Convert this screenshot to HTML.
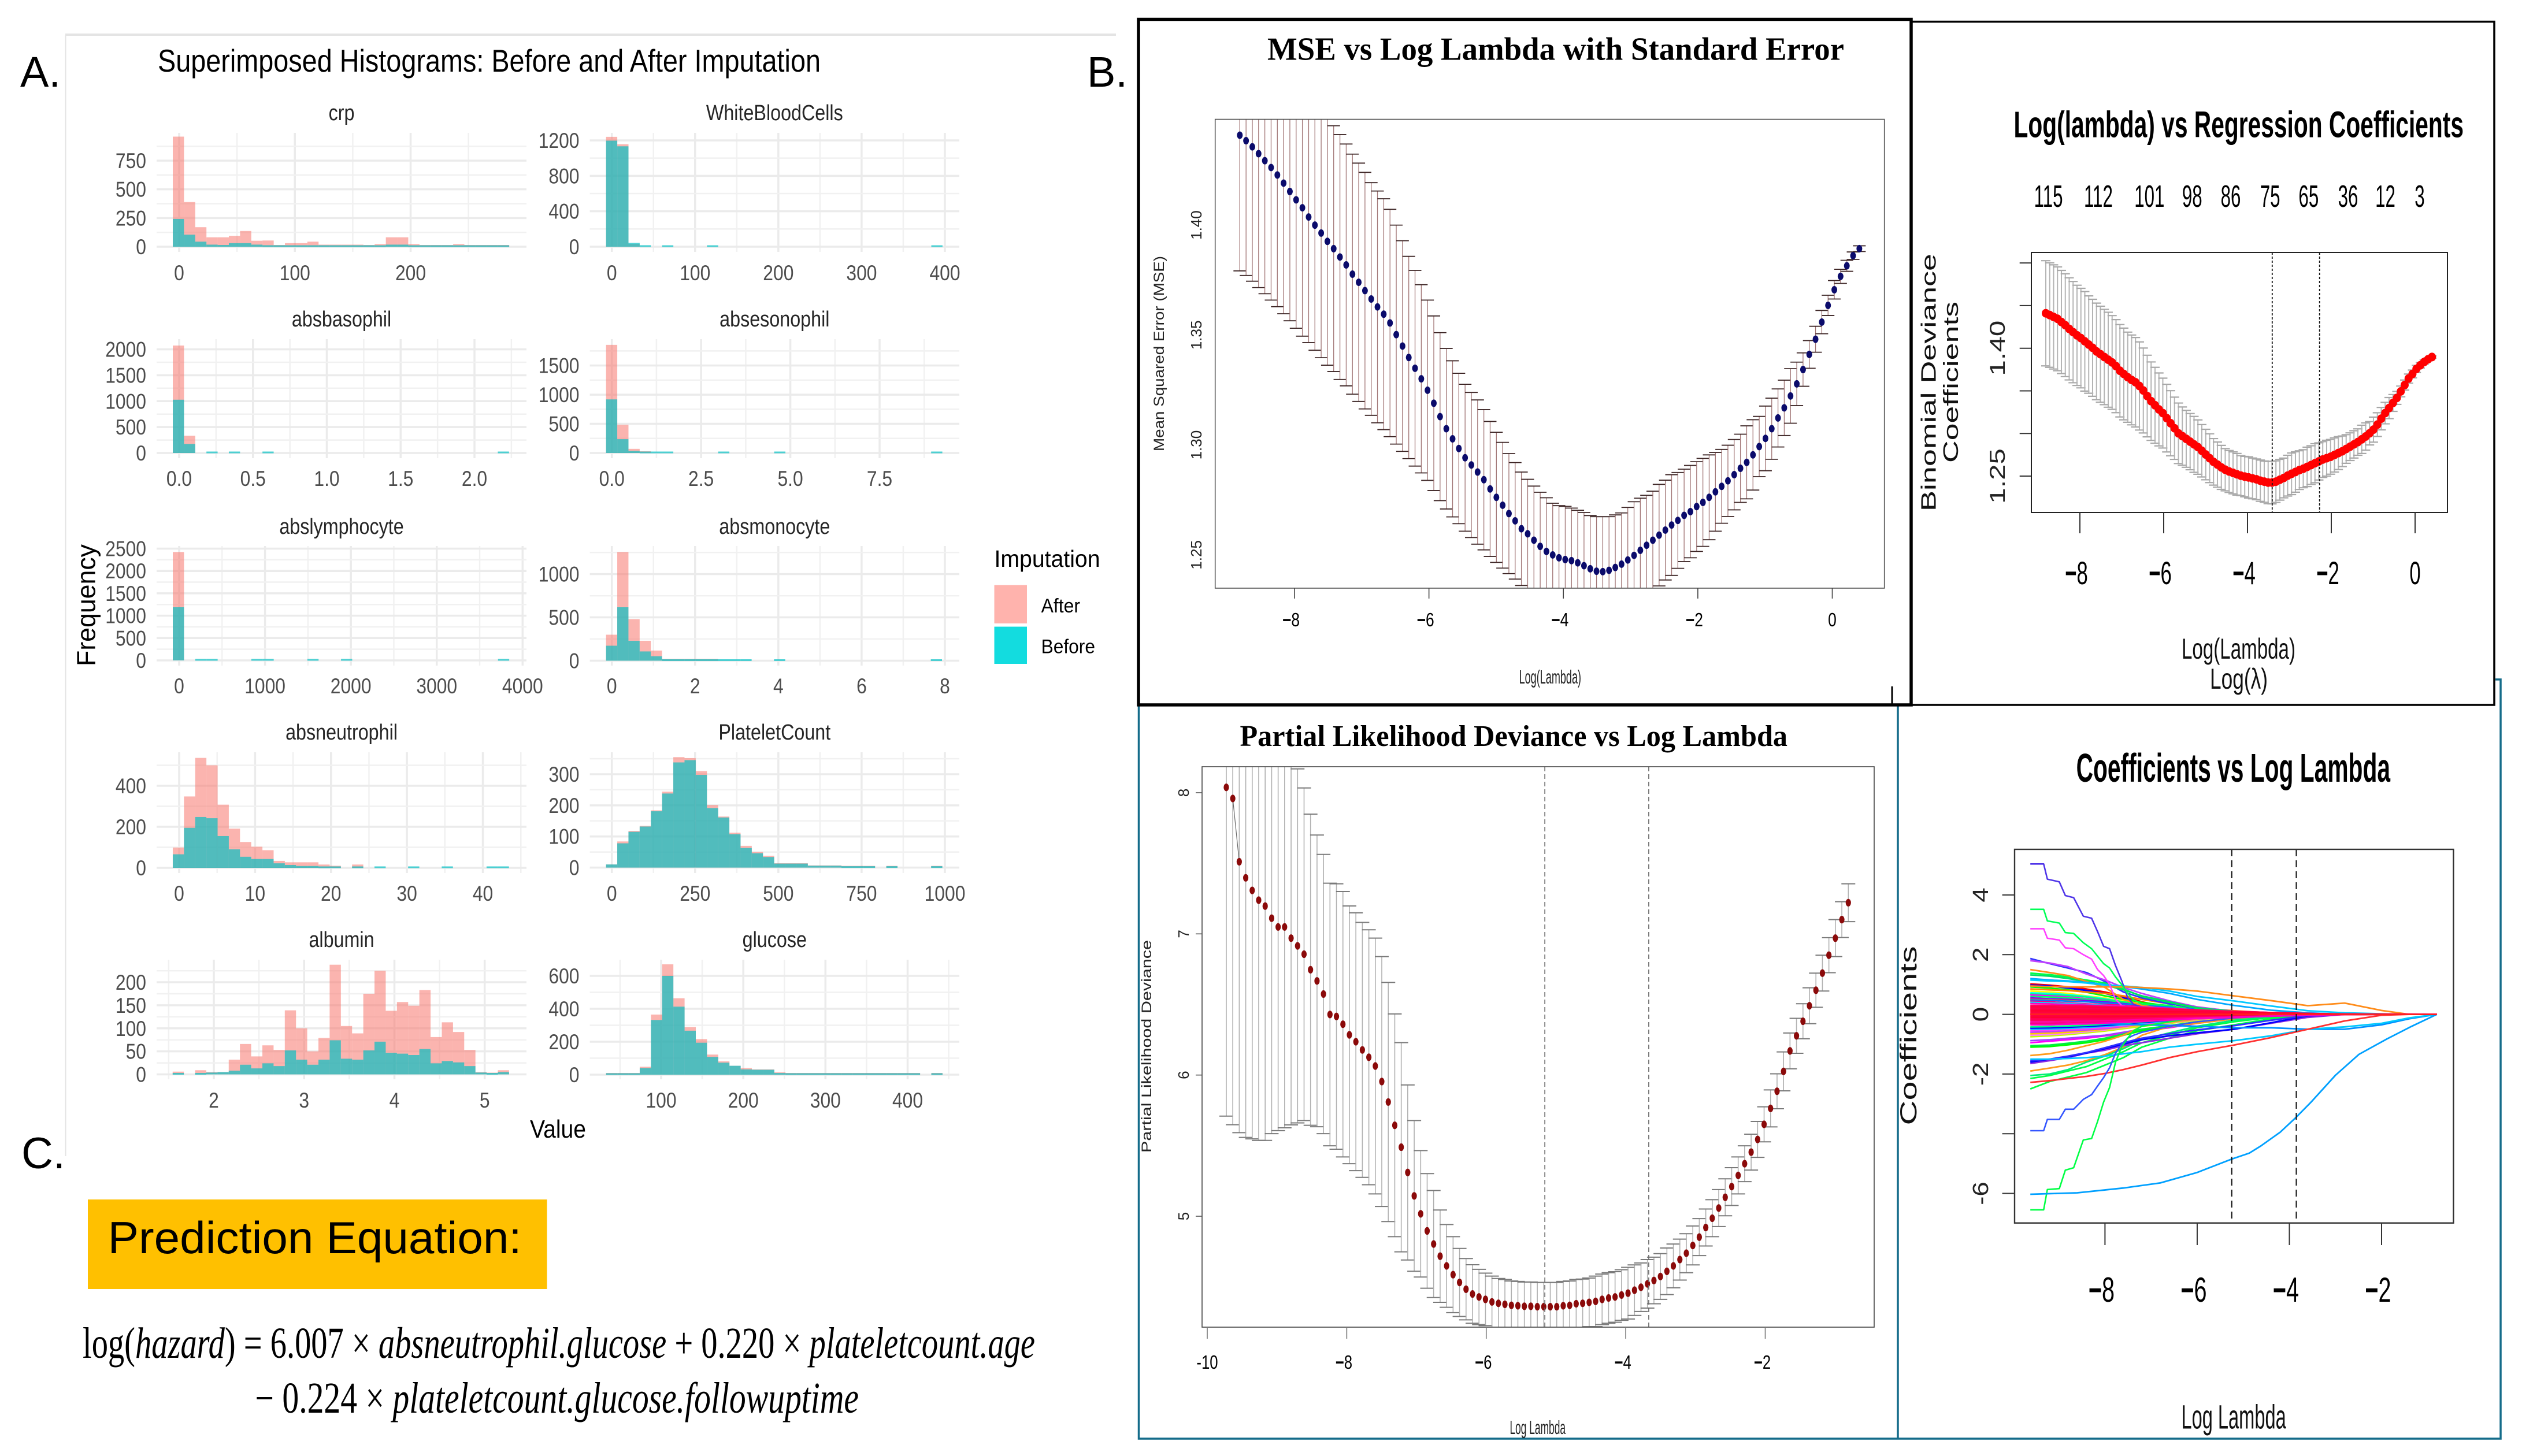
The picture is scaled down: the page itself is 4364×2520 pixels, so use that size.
<!DOCTYPE html>
<html lang="en">
<head>
<meta charset="utf-8">
<title>Superimposed histograms and lasso regularization plots</title>
<style>
html,body{margin:0;padding:0;background:#fff;}
svg{display:block;}
text{font-family:"Liberation Sans",sans-serif;}
.serif{font-family:"Liberation Serif",serif;}
</style>
</head>
<body>
<svg id="figure" xmlns="http://www.w3.org/2000/svg" width="4364" height="2520" viewBox="0 0 4364 2520">
<rect x="0" y="0" width="4364" height="2520" fill="#ffffff"/>

<!-- Panel A chrome -->
<path d="M113 60H1931" stroke="#e4e4e4" stroke-width="4" fill="none"/>
<path d="M113.5 60V2001" stroke="#e4e4e4" stroke-width="2" fill="none"/>
<text x="35" y="150" font-size="74" fill="#000">A.</text>
<text x="1881" y="150" font-size="74" fill="#000">B.</text>
<text x="37" y="2022" font-size="76" fill="#000">C.</text>
<text x="273" y="124" font-size="55" fill="#000" textLength="1147" lengthAdjust="spacingAndGlyphs">Superimposed Histograms: Before and After Imputation</text>
<text transform="translate(164.5,1153) rotate(-90)" font-size="45" fill="#000" textLength="211" lengthAdjust="spacingAndGlyphs">Frequency</text>
<text x="917" y="1969" font-size="44" fill="#000" textLength="97" lengthAdjust="spacingAndGlyphs">Value</text>

<!-- Legend -->
<g>
<text x="1720.5" y="981" font-size="41" fill="#000" textLength="183" lengthAdjust="spacingAndGlyphs">Imputation</text>
<rect x="1720.5" y="1012.7" width="56.5" height="66.3" fill="#ffb3ad"/>
<rect x="1720.5" y="1084.6" width="56.5" height="64.4" fill="#13dcdf"/>
<text x="1801.6" y="1060" font-size="34" fill="#000" textLength="67.4" lengthAdjust="spacingAndGlyphs">After</text>
<text x="1801.6" y="1130.5" font-size="34" fill="#000" textLength="93.4" lengthAdjust="spacingAndGlyphs">Before</text>
</g>

<g id="histograms"></g>

<!-- Panel C -->
<rect x="152" y="2076" width="794.5" height="155" fill="#ffc000"/>
<text x="186.6" y="2169" font-size="78" fill="#000" textLength="716" lengthAdjust="spacingAndGlyphs">Prediction Equation:</text>
<text class="serif" x="143" y="2350" font-size="76" fill="#000" textLength="1648" lengthAdjust="spacingAndGlyphs">log(<tspan font-style="italic">hazard</tspan>) = 6.007 × <tspan font-style="italic">absneutrophil.glucose</tspan> + 0.220 × <tspan font-style="italic">plateletcount.age</tspan></text>
<text class="serif" x="441.5" y="2445" font-size="76" fill="#000" textLength="1044.5" lengthAdjust="spacingAndGlyphs">− 0.224  × <tspan font-style="italic">plateletcount.glucose.followuptime</tspan></text>

<!-- Panel B boxes -->
<path d="M1970.5 1220V2490H4327V1176H4318M3284 1220V2490" fill="none" stroke="#146c8a" stroke-width="3.5"/>
<path d="M3274 1188V1220" fill="none" stroke="#000" stroke-width="3"/>
<rect x="3307" y="37.5" width="1009" height="1182.5" fill="none" stroke="#000" stroke-width="3.5"/>
<rect x="1970" y="33.5" width="1337" height="1186.5" fill="none" stroke="#000" stroke-width="5.5"/>

<!-- MSE plot static text -->
<text class="serif" x="2193" y="103.6" font-size="56" font-weight="bold" fill="#000" textLength="998" lengthAdjust="spacingAndGlyphs">MSE vs Log Lambda with Standard Error</text>
<text transform="translate(2014,781) rotate(-90)" font-size="25" fill="#222" textLength="338" lengthAdjust="spacingAndGlyphs">Mean Squared Error (MSE)</text>
<text x="2628.6" y="1183" font-size="33" fill="#222" textLength="107.4" lengthAdjust="spacingAndGlyphs">Log(Lambda)</text>
<g id="msePlot"></g>

<!-- Binomial plot static text -->
<text x="3484.5" y="237.5" font-size="64" font-weight="bold" fill="#000" textLength="778.5" lengthAdjust="spacingAndGlyphs">Log(lambda) vs Regression Coefficients</text>
<text transform="translate(3349.5,885) rotate(-90)" font-size="36" fill="#111" textLength="446" lengthAdjust="spacingAndGlyphs">Binomial Deviance</text>
<text transform="translate(3388,801) rotate(-90)" font-size="36" fill="#111" textLength="279" lengthAdjust="spacingAndGlyphs">Coefficients</text>
<text x="3775" y="1140" font-size="50" fill="#111" textLength="197" lengthAdjust="spacingAndGlyphs">Log(Lambda)</text>
<text x="3824" y="1192" font-size="50" fill="#111" textLength="100" lengthAdjust="spacingAndGlyphs">Log(λ)</text>
<g id="binomialPlot"></g>

<!-- Partial likelihood plot static text -->
<text class="serif" x="2145.5" y="1291" font-size="52" font-weight="bold" fill="#000" textLength="947.5" lengthAdjust="spacingAndGlyphs">Partial Likelihood Deviance vs Log Lambda</text>
<text transform="translate(1992,1995) rotate(-90)" font-size="24" fill="#222" textLength="368" lengthAdjust="spacingAndGlyphs">Partial Likelihood Deviance</text>
<text x="2612.5" y="2482" font-size="33" fill="#222" textLength="96.5" lengthAdjust="spacingAndGlyphs">Log Lambda</text>
<g id="partialPlot"></g>

<!-- Coefficient plot static text -->
<text x="3592.6" y="1353" font-size="70" font-weight="bold" fill="#000" textLength="543.4" lengthAdjust="spacingAndGlyphs">Coefficients vs Log Lambda</text>
<text transform="translate(3316,1947.5) rotate(-90)" font-size="40" fill="#111" textLength="310" lengthAdjust="spacingAndGlyphs">Coefficients</text>
<text x="3774.5" y="2472.7" font-size="58" fill="#111" textLength="181.2" lengthAdjust="spacingAndGlyphs">Log Lambda</text>
<g id="coefPlot"></g>
</svg>

<script>
/* ---------- Histogram data (frequency per bin) ---------- */
const crpAfter=[959,389,170,82,82,95,137,52,54,10,31,31,44,18,18,18,18,10,23,82,82,23,5,13,13,23,13,13,3,13];
const crpBefore=[242,105,44,18,15,31,31,18,13,4,10,10,10,10,10,10,10,4,8,18,18,8,3,3,3,3,3,3,3,3];
const wbcAfter=[1240,1157,33,0,0,0,0,0,0,0,0,0,0,0,0,0,0,0,0,0,0,0,0,0,0,0,0,0,0,0];
const wbcBefore=[1197,1133,43,17,0,5,0,0,0,5,0,0,0,0,0,0,0,0,0,0,0,0,0,0,0,0,0,0,0,5];
const basophilAfter=[2073,333,0,0,0,0,0,0,0,0,0,0,0,0,0,0,0,0,0,0,0,0,0,0,0,0,0,0,0,0];
const basophilBefore=[1028,175,0,8,0,8,0,0,8,0,0,0,0,0,0,0,0,0,0,0,0,0,0,0,0,0,0,0,0,8];
const esonophilAfter=[1854,485,71,20,0,0,0,0,0,0,0,0,0,0,0,0,0,0,0,0,0,0,0,0,0,0,0,0,0,0];
const esonophilBefore=[919,237,35,15,15,10,0,0,0,0,5,0,0,0,0,5,0,0,0,0,0,0,0,0,0,0,0,0,0,5];
const lymphocyteAfter=[2424,0,0,0,0,0,0,0,0,0,0,0,0,0,0,0,0,0,0,0,0,0,0,0,0,0,0,0,0,0];
const lymphocyteBefore=[1189,0,5,5,0,0,0,5,5,0,0,0,5,0,0,5,0,0,0,0,0,0,0,0,0,0,0,0,0,5];
const monocyteAfter=[300,1255,480,230,117,20,20,15,15,8,0,0,0,0,0,0,0,0,0,0,0,0,0,0,0,0,0,0,0,0];
const monocyteBefore=[173,617,230,107,51,8,3,3,3,3,3,3,3,0,0,3,0,0,0,0,0,0,0,0,0,0,0,0,0,3];
const neutrophilAfter=[99,348,536,500,308,191,126,103,86,34,27,27,27,16,10,0,16,0,0,0,0,0,0,0,0,0,0,0,0,0];
const neutrophilBefore=[66,195,248,242,155,90,54,43,43,22,14,9,9,5,7,0,5,0,5,0,0,5,0,0,5,0,0,0,5,5];
const plateletAfter=[10,84,118,134,184,244,355,352,310,201,164,112,70,50,38,14,14,14,7,7,7,5,4,2,0,3,0,0,0,3];
const plateletBefore=[10,78,115,132,181,238,338,345,298,191,161,107,63,46,34,13,13,13,6,6,6,4,3,2,0,3,0,0,0,3];
const albuminAfter=[6,0,9,5,5,32,66,39,63,53,139,100,50,79,238,105,89,175,225,138,157,149,183,81,113,92,53,5,3,9];
const albuminBefore=[2,0,3,4,5,8,21,13,24,18,52,32,21,32,74,34,32,52,71,47,45,42,55,24,29,26,18,4,2,5];
const glucoseAfter=[3,5,10,48,365,670,464,289,216,122,81,54,40,32,32,14,5,8,10,10,5,8,5,5,5,5,4,3,0,3];
const glucoseBefore=[3,5,8,40,332,600,413,267,194,108,73,54,32,30,30,10,4,4,4,4,4,4,4,4,4,4,3,3,0,3];

/* ---------- Histogram tick labels ---------- */
const crpXTicks=[0,100,200], crpYTicks=[0,250,500,750];
const wbcXTicks=[0,100,200,300,400], wbcYTicks=[0,400,800,1200];
const basophilXTicks=["0.0","0.5","1.0","1.5","2.0"], basophilYTicks=[0,500,1000,1500,2000];
const esonophilXTicks=["0.0","2.5","5.0","7.5"], esonophilYTicks=[0,500,1000,1500];
const lymphocyteXTicks=[0,1000,2000,3000,4000], lymphocyteYTicks=[0,500,1000,1500,2000,2500];
const monocyteXTicks=[0,2,4,6,8], monocyteYTicks=[0,500,1000];
const neutrophilXTicks=[0,10,20,30,40], neutrophilYTicks=[0,200,400];
const plateletXTicks=[0,250,500,750,1000], plateletYTicks=[0,100,200,300];
const albuminXTicks=[2,3,4,5], albuminYTicks=[0,50,100,150,200];
const glucoseXTicks=[100,200,300,400], glucoseYTicks=[0,200,400,600];

/* ---------- MSE curve ---------- */
const mseValues=[1.4401,1.4376,1.4348,1.4317,1.4285,1.4254,1.4220,1.4183,1.4145,1.4107,1.4071,1.4029,1.3992,1.3956,1.3918,1.3885,1.3847,1.3811,1.3769,1.3732,1.3694,1.3656,1.3620,1.3587,1.3547,1.3494,1.3442,1.3390,1.3341,1.3293,1.3241,1.3182,1.3121,1.3066,1.3020,1.2976,1.2934,1.2901,1.2869,1.2834,1.2792,1.2754,1.2718,1.2680,1.2647,1.2611,1.2588,1.2559,1.2531,1.2508,1.2492,1.2479,1.2471,1.2466,1.2456,1.2443,1.2429,1.2418,1.2416,1.2422,1.2435,1.2450,1.2469,1.2490,1.2513,1.2536,1.2559,1.2582,1.2605,1.2628,1.2649,1.2672,1.2689,1.2712,1.2731,1.2754,1.2779,1.2804,1.2829,1.2857,1.2886,1.2913,1.2947,1.2985,1.3022,1.3066,1.3115,1.3161,1.3215,1.3270,1.3335,1.3404,1.3473,1.3551,1.3627,1.3698,1.3759,1.3807,1.3853,1.3885];
const mseSe=[.0617,.0613,.0611,.0609,.0605,.0603,.0599,.0594,.0588,.0584,.0584,.0571,.0569,.0567,.0563,.0559,.0557,.0550,.0546,.0542,.0538,.0529,.0527,.0525,.0517,.0498,.0479,.0460,.0445,.0428,.0410,.0397,.0382,.0365,.0355,.0342,.0334,.0330,.0328,.0319,.0307,.0296,.0286,.0273,.0265,.0258,.0248,.0246,.0246,.0244,.0235,.0237,.0242,.0239,.0239,.0242,.0242,.0248,.0250,.0244,.0239,.0233,.0239,.0244,.0237,.0227,.0223,.0231,.0227,.0229,.0218,.0210,.0210,.0204,.0200,.0193,.0179,.0168,.0162,.0160,.0155,.0166,.0160,.0137,.0147,.0139,.0132,.0126,.0124,.0099,.0076,.0063,.0059,.0053,.0046,.0042,.0032,.0025,.0017,.0013];
const mseLambdaStart=-8.814, mseLambdaStep=0.0931;
const mseXTicks=[-8,-6,-4,-2,0], mseYTicks=[1.25,1.30,1.35,1.40];

/* ---------- Binomial deviance curve ---------- */
const binomialValues=[1.4410,1.4389,1.4367,1.4345,1.4308,1.4270,1.4227,1.4189,1.4151,1.4119,1.4081,1.4043,1.4005,1.3962,1.3930,1.3897,1.3865,1.3833,1.3790,1.3736,1.3698,1.3660,1.3628,1.3601,1.3557,1.3504,1.3439,1.3379,1.3331,1.3282,1.3239,1.3180,1.3120,1.3061,1.3002,1.2969,1.2937,1.2904,1.2872,1.2840,1.2797,1.2753,1.2710,1.2667,1.2635,1.2602,1.2575,1.2554,1.2538,1.2521,1.2505,1.2494,1.2484,1.2473,1.2462,1.2446,1.2435,1.2424,1.2424,1.2435,1.2457,1.2478,1.2505,1.2527,1.2548,1.2570,1.2586,1.2608,1.2629,1.2651,1.2672,1.2694,1.2710,1.2726,1.2748,1.2770,1.2791,1.2818,1.2845,1.2872,1.2899,1.2931,1.2964,1.3002,1.3045,1.3104,1.3174,1.3239,1.3298,1.3358,1.3417,1.3493,1.3568,1.3644,1.3698,1.3757,1.3800,1.3838,1.3870,1.3897];
const binomialSe=mseSe;
const binomialXTicks=[-8,-6,-4,-2,0];
const binomialYTicks=[1.50,1.45,1.40,1.35,1.30,1.25];
const binomialYLabels=["","","1.40","","","1.25"];
const binomialTopCounts=[115,112,101,98,86,75,65,36,12,3];
const binomialTopLambdas=[-8.75,-7.56,-6.34,-5.32,-4.40,-3.46,-2.54,-1.60,-0.71,0.11];
const binomialCutoffs=[-3.41,-2.28];

/* ---------- Partial likelihood curve ---------- */
const partialValues=[8.038,7.959,7.511,7.397,7.308,7.239,7.197,7.111,7.049,7.049,6.970,6.915,6.856,6.746,6.667,6.574,6.429,6.415,6.360,6.285,6.236,6.178,6.126,6.064,5.954,5.809,5.644,5.489,5.310,5.144,5.017,4.896,4.803,4.717,4.648,4.586,4.531,4.483,4.449,4.428,4.411,4.393,4.383,4.376,4.369,4.366,4.362,4.362,4.359,4.359,4.359,4.359,4.366,4.369,4.380,4.383,4.390,4.397,4.411,4.421,4.428,4.442,4.455,4.476,4.497,4.521,4.545,4.573,4.610,4.648,4.693,4.738,4.793,4.852,4.920,4.986,5.058,5.134,5.210,5.289,5.372,5.454,5.544,5.651,5.764,5.885,6.026,6.171,6.278,6.381,6.491,6.601,6.722,6.849,6.970,7.101,7.221];
const partialSe=[2.329,2.311,1.919,1.839,1.760,1.702,1.660,1.526,1.443,1.423,1.323,1.254,1.178,1.102,1.033,.989,.930,.940,.940,.913,.913,.903,.903,.906,.885,.847,.789,.741,.620,.534,.448,.406,.379,.327,.293,.269,.241,.217,.207,.196,.186,.183,.176,.176,.172,.172,.172,.172,.172,.172,.172,.172,.172,.172,.172,.172,.172,.179,.179,.179,.179,.179,.183,.179,.172,.172,.165,.162,.165,.155,.145,.138,.138,.131,.131,.131,.131,.131,.134,.131,.127,.127,.127,.124,.131,.124,.138,.127,.124,.124,.127,.121,.127,.124,.131,.127,.134];
const partialLambdaStart=-9.727, partialLambdaStep=0.0929;
const partialXTicks=[-10,-8,-6,-4,-2], partialYTicks=[5,6,7,8];
const partialCutoffs=[-5.16,-3.67];

/* ---------- Coefficient paths ---------- */
const coefLambda=[-9.62,-9.2,-8.8,-8.4,-8.0,-7.6,-7.2,-6.6,-6.0,-5.2,-4.4,-3.6,-2.8,-2.0,-1.4,-0.8];
const coefXTicks=[-8,-6,-4,-2];
const coefYTicks=[4,2,0,-2,-4,-6];
const coefYLabels=["4","2","0","-2","","-6"];
const coefCutoffs=[-5.25,-3.85];
const coefPaths=[
[1.02,.98,.92,.85,.75,.6,.42,.22,.14,.08,.04],
[.98,.95,.88,.8,.7,.55,.35,.2,.12,.07,.03],
[.92,.88,.82,.74,.62,.5,.4,.28,.16,.09,.04],
[.85,.82,.8,.75,.7,.62,.5,.35,.22,.12,.05],
[.78,.75,.7,.62,.55,.45,.35,.25,.15,.05,.02],
[.72,.7,.66,.6,.52,.42,.32,.24,.18,.08,.03],
[.68,.66,.63,.58,.5,.42,.33,.25,.16,.08,.03],
[.65,.62,.58,.52,.46,.38,.3,.2,.1,.06,.02],
[.6,.58,.55,.5,.45,.4,.34,.26,.18,.1,.04],
[.55,.52,.5,.46,.42,.36,.3,.22,.14,.08,.03],
[.5,.49,.46,.42,.38,.33,.28,.2,.14,.08,.03],
[.48,.47,.44,.42,.38,.34,.3,.24,.16,.07,.03],
[.44,.42,.38,.35,.33,.3,.26,.2,.14,.08,.04],
[.4,.38,.36,.33,.3,.27,.24,.18,.12,.07,.03],
[-.95,-.9,-.85,-.8,-.72,-.65,-.55,-.45,-.3,-.15,-.06],
[-.88,-.85,-.8,-.75,-.7,-.6,-.5,-.38,-.25,-.12,-.04],
[-1.1,-1.08,-1.02,-.95,-.85,-.7,-.55,-.42,-.28,-.14,-.05],
[-1.05,-1.03,-.97,-.9,-.8,-.66,-.5,-.38,-.25,-.12,-.04],
[-.75,-.72,-.68,-.62,-.56,-.48,-.4,-.3,-.2,-.09,-.03],
[-.7,-.68,-.64,-.58,-.52,-.44,-.36,-.28,-.18,-.08,-.03],
[-.65,-.63,-.6,-.55,-.5,-.42,-.36,-.27,-.17,-.08,-.03],
[-.6,-.58,-.55,-.52,-.48,-.4,-.32,-.25,-.16,-.08,-.03],
[-.55,-.53,-.5,-.48,-.44,-.38,-.3,-.23,-.15,-.07,-.03],
[-.5,-.49,-.47,-.44,-.4,-.35,-.29,-.22,-.14,-.07,-.02],
[-.46,-.45,-.43,-.4,-.37,-.32,-.27,-.2,-.13,-.06,-.02],
[-.42,-.41,-.39,-.37,-.33,-.3,-.25,-.19,-.12,-.06,-.02],
[1.87,1.7,1.55,1.4,1.1,.75,.55,.35,.2,.08,.03],
[1.8,1.72,1.6,1.35,1.15,.9,.7,.45,.25,.1,.04],
[1.38,1.33,1.25,1.15,1.05,.85,.6,.4,.2,.1,.05],
[1.32,1.28,1.2,1.1,.98,.82,.62,.42,.22,.1,.04],
[1.5,1.4,1.3,1.1,.9,.5,.3,.15,.08,.03],
[1.2,1.15,1.12,1.07,1.0,.93,.85,.7,.5,.3,.14,.05],
[1.15,1.12,1.1,1.05,.98,.95,.9,.78,.6,.45,.28,.12,.05,.02],
[.95,.93,.92,.92,.92,.92,.9,.85,.78,.62,.46,.29,.378,.13,0],
[-1.38,-1.32,-1.2,-1.05,-.9,-.7,-.4,-.25,-.15,-.07,-.03],
[-1.9,-1.8,-1.7,-1.55,-1.35,-1.1,-.7,-.4,-.3,-.15,-.05],
[-2.5,-2.25,-2.1,-1.95,-1.7,-1.45,-1.1,-.8,-.55,-.35,-.15,-.05],
[-2.15,-2.05,-1.9,-1.75,-1.5,-1.25,-.95,-.7,-.45,-.25,-.1,-.03],
[-2.05,-2.0,-1.85,-1.6,-1.4,-1.15,-.85,-.62,-.4,-.2,-.08],
[-1.65,-1.55,-1.45,-1.3,-1.2,-1.05,-.95,-.8,-.65,-.5,-.3,-.1],
[-1.6,-1.5,-1.42,-1.3,-1.15,-1.0,-.85,-.72,-.62,-.5,-.28,-.05],
[-1.55,-1.5,-1.4,-1.28,-1.12,-.95,-.8,-.65,-.52,-.38,-.2,-.04],
[-.3,-.3,-.3,-.3,-.32,-.33,-.35,-.37,-.4,-.45,-.45,-.5,-.5,-.35,-.15,0],
[-1.5,-1.5,-1.48,-1.45,-1.4,-1.32,-1.25,-1.1,-1.0,-.88,-.72,-.5,-.42,-.3,-.12,0],
[-2.28,-2.22,-2.15,-2.08,-1.98,-1.85,-1.7,-1.45,-1.25,-1.03,-.78,-.5,-.22,-.03,0,0],
[.36,.35,.33,.31,.29,.27,.24,.2,.15,.1,.06,.03],
[.3,.3,.29,.28,.26,.24,.22,.18,.14,.1,.06,.03],
[.25,.25,.24,.24,.22,.21,.19,.16,.13,.09,.06,.03,.01],
[.2,.2,.2,.19,.18,.17,.15,.13,.11,.08,.05,.03,.01],
[.16,.16,.15,.15,.14,.13,.12,.11,.09,.07,.05,.02,.01],
[.11,.11,.11,.1,.1,.09,.09,.08,.07,.05,.04,.02,.01],
[.06,.06,.06,.06,.05,.05,.05,.04,.04,.03,.02,.01,.01],
[.01,.01,.01,.01,.01,.01,.01,.01,.01,.01,.01,.01,.01,.01,.01,0],
[-.05,-.05,-.05,-.05,-.05,-.05,-.04,-.04,-.03,-.03,-.02,-.01,-.01],
[-.1,-.1,-.1,-.1,-.09,-.09,-.08,-.08,-.07,-.05,-.04,-.02,-.01],
[-.15,-.15,-.15,-.14,-.14,-.13,-.12,-.1,-.09,-.07,-.05,-.02,-.01],
[-.2,-.2,-.19,-.19,-.18,-.17,-.15,-.13,-.1,-.08,-.05,-.03,-.01],
[-.25,-.25,-.24,-.23,-.22,-.2,-.18,-.15,-.12,-.09,-.06,-.03],
[-.3,-.3,-.29,-.27,-.26,-.24,-.21,-.17,-.13,-.1,-.06,-.03],
[-.35,-.35,-.33,-.32,-.29,-.27,-.24,-.19,-.14,-.1,-.06,-.03],
[0,0,0,0,0,0,0,0,0,0,0,0,0,0,0,0]
];
const coefColors=["#ff0000","#0000ff","#00ff00","#ff8000","#ffff00","#00ffff","#00ff80","#ff00ff","#00ff66","#8000ff","#ff8000","#0080ff","#ff0080","#00e5ff",
"#ff00ff","#a040ff","#00ff00","#00ee44","#c0ff00","#ff80ff","#ffc800","#c040ff","#ff40ff","#00ccff","#0000ff","#00ff80",
"#3333ff","#c040ff","#00ff44","#00dd66","#ff8c1a","#00a8ff","#00c8ff","#ff8c1a","#ff9a1a","#ff9a1a","#00ff44","#00ff44","#00ee77","#8a2be2","#0000ff","#3030ff","#0090ff","#00c8ff","#ff3030",
"#ff00c0","#ff0060","#ff0040","#ff0050","#ff0040","#ff0030","#ff0040","#ff0020","#ff0040","#ff0030","#ff0050","#ff0060","#ff00a0","#ff0080","#ff00c0","#ff2020"];

/* Outlying stair-stepped coefficient paths, read on a finer lambda grid */
const outerLambda=[-9.62,-9.33,-9.25,-8.99,-8.86,-8.68,-8.47,-8.29,-8.16,-8.03,-7.9,-7.77,-7.64,-7.51,-7.38,-7.2,-6.6,-6.0,-5.2,-4.4,-3.6,-2.8];
const outerVioletPath=[5.04,5.04,4.53,4.44,3.98,3.91,3.29,3.22,2.77,2.28,2.2,1.63,1.14,.57,.33,.25,.2,.12,.08,.05,.02,0];
const outerGreenPath=[3.52,3.52,3.13,3.06,2.74,2.71,2.4,2.2,1.95,1.7,1.55,1.25,1.0,.7,.49,.35,.3,.1,.05,.02,0,0];
const outerMagentaPath=[2.87,2.87,2.55,2.49,2.23,2.2,2.0,1.85,1.5,1.3,1.0,.5,.3,.25,.2,.15,.1,.06,.03,.01,0,0];
const outerBluePath=[-3.9,-3.9,-3.52,-3.52,-3.18,-3.18,-2.85,-2.69,-2.4,-2.12,-1.79,-1.3,-1.0,-.8,-.7,-.6,-.4,-.25,-.12,-.05,0,0];
const outerLimePath=[-6.55,-6.55,-5.87,-5.84,-5.22,-5.14,-4.21,-4.16,-3.59,-2.94,-2.45,-1.6,-1.1,-.8,-.55,-.4,-.25,-.1,-.05,-.02,0,0];

/* The large negative coefficient path */
const largestPathLambda=[-9.62,-8.6,-7.6,-6.8,-6,-5.25,-4.87,-4.61,-4.2,-3.86,-3.53,-3.0,-2.49,-1.88,-1.36,-0.8];
const largestPathValues=[-6.03,-5.98,-5.82,-5.65,-5.3,-4.85,-4.65,-4.4,-3.95,-3.46,-2.94,-2.04,-1.34,-.82,-.41,0];

/* ---------- Helpers ---------- */
const NS="http://www.w3.org/2000/svg";
function mk(parent,tag,attrs,name){
  const el=document.createElementNS(NS,tag);
  for(const k in attrs){el.setAttribute(k,attrs[k]);}
  
  
  parent.appendChild(el);
  return el;
}
function label(parent,str,x,y,size,sx,anchor,fill,name,rot){
  const tf="translate("+x+","+y+")"+(rot?" rotate(-90)":"")+" scale("+sx+",1)";
  const t=mk(parent,"text",{transform:tf,"font-size":size,"text-anchor":anchor,fill:fill},name);
  const s=String(str);
  if(s.charAt(0)==="−"){
    const dash=mk(t,"tspan",{"font-weight":"bold"},name+"-minus-sign");
    dash.textContent="−";
    t.appendChild(document.createTextNode(s.slice(1)));
  }else{
    t.textContent=s;
  }
  return t;
}
function linear(v0,p0,v1,p1){
  return function(v){return p0+(v-v0)*(p1-p0)/(v1-v0);};
}
function toNum(v){return parseFloat(v);}

/* ---------- Histogram facets ---------- */
const histRoot=document.getElementById("histograms");
const colsPx=[{left:271,right:911,yLab:253},{left:1020.6,right:1660,yLab:1002.5}];
const rowsPx=[{top:230,bottom:436,strip:208,xLab:485},{top:587,bottom:793,strip:565,xLab:841},{top:945,bottom:1152,strip:924,xLab:1200},{top:1302,bottom:1511,strip:1280,xLab:1559},{top:1661,bottom:1868,strip:1639,xLab:1917}];
const GRID_MAJOR="#ebebeb", GRID_MINOR="#f1f1f1";
function facet(slug,title,col,row,xTicks,xRefs,yTicks,yRefs,binStart,binWidth,after,before){
  const c=colsPx[col], r=rowsPx[row];
  const g=mk(histRoot,"g",{},"facet-"+slug);
  const xs=linear(xRefs[0],xRefs[1],xRefs[2],xRefs[3]);
  const ys=linear(yRefs[0],yRefs[1],yRefs[2],yRefs[3]);
  label(g,title,(c.left+c.right)/2,r.strip,38,0.85,"middle","#262626","facet-title-"+slug);
  const xv=xTicks.map(toNum), yv=yTicks.map(toNum);
  const xStep=(xv[xv.length-1]-xv[0])/(xv.length-1), yStep=yv[1]-yv[0];
  for(let k=-4;k<40;k++){
    const v=xv[0]+k*xStep/2, p=xs(v);
    if(p<c.left+5||p>c.right-5){continue;}
    const major=(k%2===0);
    mk(g,"line",{x1:p,x2:p,y1:r.top,y2:r.bottom,stroke:major?GRID_MAJOR:GRID_MINOR,"stroke-width":major?3.5:2.5},"vertical-gridline");
  }
  for(let k=0;k<40;k++){
    const v=yv[0]+k*yStep/2, p=ys(v);
    if(p<r.top+2){break;}
    const major=(k%2===0);
    mk(g,"line",{x1:c.left,x2:c.right,y1:p,y2:p,stroke:major?GRID_MAJOR:GRID_MINOR,"stroke-width":major?3.5:2.5},"horizontal-gridline");
  }
  const base=ys(0);
  after.forEach(function(v,i){
    if(v<=0){return;}
    const x0=xs(binStart+i*binWidth), x1=xs(binStart+(i+1)*binWidth), top=ys(v);
    mk(g,"rect",{x:x0,y:Math.min(top,base-3),width:x1-x0,height:Math.max(base-top,3),fill:"#f8766d","fill-opacity":0.55},"bar-after-"+slug);
  });
  before.forEach(function(v,i){
    if(v<=0){return;}
    const x0=xs(binStart+i*binWidth), x1=xs(binStart+(i+1)*binWidth), top=ys(v);
    mk(g,"rect",{x:x0,y:Math.min(top,base-2.5),width:x1-x0,height:Math.max(base-top,3),fill:"#00bfc4","fill-opacity":0.68},"bar-before-"+slug);
  });
  xTicks.forEach(function(t){
    label(g,t,xs(toNum(t)),r.xLab,37,0.86,"middle","#4d4d4d","x-tick-label-"+slug);
  });
  yTicks.forEach(function(t){
    label(g,t,c.yLab,ys(toNum(t))+13,37,0.86,"end","#4d4d4d","y-tick-label-"+slug);
  });
}
facet("crp","crp",0,0,crpXTicks,[0,310,200,710.5],crpYTicks,[0,427,750,278],-5.5,9.69,crpAfter,crpBefore);
facet("white-blood-cells","WhiteBloodCells",1,0,wbcXTicks,[0,1058.7,400,1635],wbcYTicks,[0,427,1200,243],-6.94,13.47,wbcAfter,wbcBefore);
facet("absbasophil","absbasophil",0,1,basophilXTicks,[0,310,2,821],basophilYTicks,[0,784,2000,604.6],-0.043,0.0759,basophilAfter,basophilBefore);
facet("absesonophil","absesonophil",1,1,esonophilXTicks,[0,1058.7,7.5,1522],esonophilYTicks,[0,784,1500,632.6],-0.162,0.314,esonophilAfter,esonophilBefore);
facet("abslymphocyte","abslymphocyte",0,2,lymphocyteXTicks,[0,310,4000,904.3],lymphocyteYTicks,[0,1143,2500,949.5],-74,130.6,lymphocyteAfter,lymphocyteBefore);
facet("absmonocyte","absmonocyte",1,2,monocyteXTicks,[0,1058.7,8,1635],monocyteYTicks,[0,1143.5,1000,993.6],-0.139,0.269,monocyteAfter,monocyteBefore);
facet("absneutrophil","absneutrophil",0,3,neutrophilXTicks,[0,310,40,835.5],neutrophilYTicks,[0,1502,400,1360],-0.84,1.476,neutrophilAfter,neutrophilBefore);
facet("platelet-count","PlateletCount",1,3,plateletXTicks,[0,1058.7,1000,1635],plateletYTicks,[0,1501.6,300,1340],-17.4,33.66,plateletAfter,plateletBefore);
facet("albumin","albumin",0,4,albuminXTicks,[2,370,5,838.7],albuminYTicks,[0,1859.5,200,1700],1.544,0.1242,albuminAfter,albuminBefore);
facet("glucose","glucose",1,4,glucoseXTicks,[100,1144,400,1570.5],glucoseYTicks,[0,1860,600,1689],33,13.65,glucoseAfter,glucoseBefore);

/* ---------- Lambda plots ---------- */
function frameAndClip(g,id,x,y,w,h,name){
  const cp=mk(g,"clipPath",{id:id},name+"-clip");
  mk(cp,"rect",{x:x,y:y,width:w,height:h},name+"-clip-rect");
  return mk(g,"g",{"clip-path":"url(#"+id+")"},name+"-marks");
}
function errorBars(g,lambdaAt,values,se,xs,ys,capHalf,stem,cap,stemW,capW){
  values.forEach(function(v,i){
    const x=xs(lambdaAt(i)), yu=ys(v+se[i]), yl=ys(v-se[i]);
    mk(g,"line",{x1:x,x2:x,y1:yu,y2:yl,stroke:stem,"stroke-width":stemW},"error-bar-stem");
    mk(g,"line",{x1:x-capHalf,x2:x+capHalf,y1:yu,y2:yu,stroke:cap,"stroke-width":capW},"error-bar-cap-upper");
    mk(g,"line",{x1:x-capHalf,x2:x+capHalf,y1:yl,y2:yl,stroke:cap,"stroke-width":capW},"error-bar-cap-lower");
  });
}
function points(g,lambdaAt,values,xs,ys,rx,ry,fill){
  values.forEach(function(v,i){
    mk(g,"ellipse",{cx:xs(lambdaAt(i)),cy:ys(v),rx:rx,ry:ry,fill:fill},"curve-point");
  });
}

/* MSE plot */
(function(){
  const root=document.getElementById("msePlot");
  const xs=linear(-8,2240,0,3170.5), ys=linear(1.25,957.4,1.40,386.6);
  const at=function(i){return mseLambdaStart+i*mseLambdaStep;};
  const marks=frameAndClip(root,"mseClip",2102.7,206.5,1158,811.5,"mse");
  errorBars(marks,at,mseValues,mseSe,xs,ys,11,"#a07474","#3c2424",1.3,1.8);
  points(marks,at,mseValues,xs,ys,5,6.5,"#0b0b6b");
  mk(root,"rect",{x:2102.7,y:206.5,width:1158,height:811.5,fill:"none",stroke:"#555","stroke-width":1.6},"mse-plot-frame");
  mseXTicks.forEach(function(t){
    mk(root,"line",{x1:xs(t),x2:xs(t),y1:1018,y2:1036,stroke:"#444","stroke-width":1.6},"mse-x-tick");
    label(root,t===0?"0":"−"+Math.abs(t),xs(t)-(t===0?0:6),1084,33,0.8,"middle","#000","mse-x-tick-label");
  });
  mseYTicks.forEach(function(t){
    label(root,t.toFixed(2),2079,ys(t)+3,26,1,"middle","#222","mse-y-tick-label",true);
  });
})();

/* Binomial plot */
(function(){
  const root=document.getElementById("binomialPlot");
  const xs=linear(-8,3599,0,4179), ys=linear(1.25,824,1.40,602.7);
  const at=function(i){return mseLambdaStart+i*mseLambdaStep;};
  binomialTopCounts.forEach(function(c,i){
    label(root,c,xs(binomialTopLambdas[i]),358,54,0.58,"middle","#000","binomial-top-count-label");
  });
  const marks=frameAndClip(root,"binClip",3515,437,720,450,"binomial");
  errorBars(marks,at,binomialValues,binomialSe,xs,ys,8,"#b4b4b4","#a8a8a8",2,2.2);
  points(marks,at,binomialValues,xs,ys,7,7.5,"#ff0000");
  binomialCutoffs.forEach(function(c){
    mk(root,"line",{x1:xs(c),x2:xs(c),y1:437,y2:887,stroke:"#111","stroke-width":1.8,"stroke-dasharray":"4 3"},"binomial-cutoff-line");
  });
  mk(root,"rect",{x:3515,y:437,width:720,height:450,fill:"none",stroke:"#222","stroke-width":2},"binomial-plot-frame");
  binomialXTicks.forEach(function(t){
    mk(root,"line",{x1:xs(t),x2:xs(t),y1:887,y2:923,stroke:"#333","stroke-width":2},"binomial-x-tick");
    label(root,t===0?"0":"−"+Math.abs(t),xs(t)-(t===0?0:6),1011,56,0.62,"middle","#000","binomial-x-tick-label");
  });
  binomialYTicks.forEach(function(t,i){
    mk(root,"line",{x1:3494.7,x2:3515,y1:ys(t),y2:ys(t),stroke:"#333","stroke-width":2},"binomial-y-tick");
    if(binomialYLabels[i]){
      label(root,binomialYLabels[i],3469,ys(t),37,1.33,"middle","#222","binomial-y-tick-label",true);
    }
  });
})();

/* Partial likelihood plot */
(function(){
  const root=document.getElementById("partialPlot");
  const xs=linear(-10,2089,-2,3054.5), ys=linear(5,2105,8,1372);
  const at=function(i){return partialLambdaStart+i*partialLambdaStep;};
  const marks=frameAndClip(root,"partialClip",2080,1327,1163,970,"partial-likelihood");
  errorBars(marks,at,partialValues,partialSe,xs,ys,12,"#b0b0b0","#7a7a7a",1.6,2);
  mk(marks,"line",{x1:xs(at(1)),x2:xs(at(2)),y1:ys(partialValues[1]),y2:ys(partialValues[2]),stroke:"#666","stroke-width":1.2},"partial-likelihood-connector");
  points(marks,at,partialValues,xs,ys,4.6,6.6,"#8b0a0a");
  partialCutoffs.forEach(function(c){
    mk(root,"line",{x1:xs(c),x2:xs(c),y1:1327,y2:2297,stroke:"#666","stroke-width":1.6,"stroke-dasharray":"8 5"},"partial-likelihood-cutoff-line");
  });
  mk(root,"rect",{x:2080,y:1327,width:1163,height:970,fill:"none",stroke:"#444","stroke-width":1.6},"partial-likelihood-plot-frame");
  partialXTicks.forEach(function(t){
    mk(root,"line",{x1:xs(t),x2:xs(t),y1:2297,y2:2317,stroke:"#777","stroke-width":1.6},"partial-likelihood-x-tick");
    label(root,t===-10?"-10":"−"+Math.abs(t),xs(t)-(t===-10?0:5),2369,33,0.78,"middle","#000","partial-likelihood-x-tick-label");
  });
  partialYTicks.forEach(function(t){
    mk(root,"line",{x1:2069,x2:2080,y1:ys(t),y2:ys(t),stroke:"#555","stroke-width":1.6},"partial-likelihood-y-tick");
    label(root,t,2057,ys(t),26,1,"middle","#222","partial-likelihood-y-tick-label",true);
  });
})();

/* Coefficient path plot */
(function(){
  const root=document.getElementById("coefPlot");
  const xs=linear(-8,3642.4,-2,4121), ys=linear(0,1755.6,4,1549);
  const marks=frameAndClip(root,"coefClip",3486,1470,759.4,646.7,"coefficient");
  function drawPath(grid,values,color,width,seriesName){
    const pts=grid.map(function(l,i){
      const v=i<values.length?values[i]:0;
      return xs(l).toFixed(1)+","+ys(v).toFixed(1);
    }).join(" ");
    mk(marks,"polyline",{points:pts,fill:"none",stroke:color,"stroke-width":width,"stroke-linejoin":"round"},seriesName);
  }
  const bandStart=45;
  coefPaths.slice(0,bandStart).forEach(function(path,s){
    drawPath(coefLambda,path,coefColors[s],2.8,"coefficient-path");
  });
  drawPath(outerLambda,outerVioletPath,"#4f35e8",2.6,"coefficient-path-violet");
  drawPath(outerLambda,outerGreenPath,"#00ff55",2.6,"coefficient-path-green");
  drawPath(outerLambda,outerMagentaPath,"#ff40ff",2.6,"coefficient-path-magenta");
  drawPath(outerLambda,outerBluePath,"#3355ff",2.6,"coefficient-path-blue");
  drawPath(outerLambda,outerLimePath,"#00ff44",2.6,"coefficient-path-lime");
  drawPath(largestPathLambda,largestPathValues,"#00a0ff",2.8,"coefficient-path-largest");
  coefPaths.slice(bandStart).forEach(function(path,s){
    drawPath(coefLambda,path,coefColors[bandStart+s],2.8,"coefficient-path-central-band");
  });
  coefCutoffs.forEach(function(c){
    mk(root,"line",{x1:xs(c),x2:xs(c),y1:1470,y2:2117,stroke:"#111","stroke-width":2,"stroke-dasharray":"12 7"},"coefficient-cutoff-line");
  });
  mk(root,"rect",{x:3486,y:1470,width:759.4,height:646.7,fill:"none",stroke:"#333","stroke-width":2.4},"coefficient-plot-frame");
  coefXTicks.forEach(function(t){
    mk(root,"line",{x1:xs(t),x2:xs(t),y1:2117,y2:2155,stroke:"#333","stroke-width":2},"coefficient-x-tick");
    label(root,"−"+Math.abs(t),xs(t)-6,2253,60,0.66,"middle","#000","coefficient-x-tick-label");
  });
  coefYTicks.forEach(function(t,i){
    mk(root,"line",{x1:3464.6,x2:3486,y1:ys(t),y2:ys(t),stroke:"#333","stroke-width":2},"coefficient-y-tick");
    if(coefYLabels[i]){
      label(root,coefYLabels[i],3440,ys(t),38,1.2,"middle","#222","coefficient-y-tick-label",true);
    }
  });
})();
</script>
</body>
</html>
